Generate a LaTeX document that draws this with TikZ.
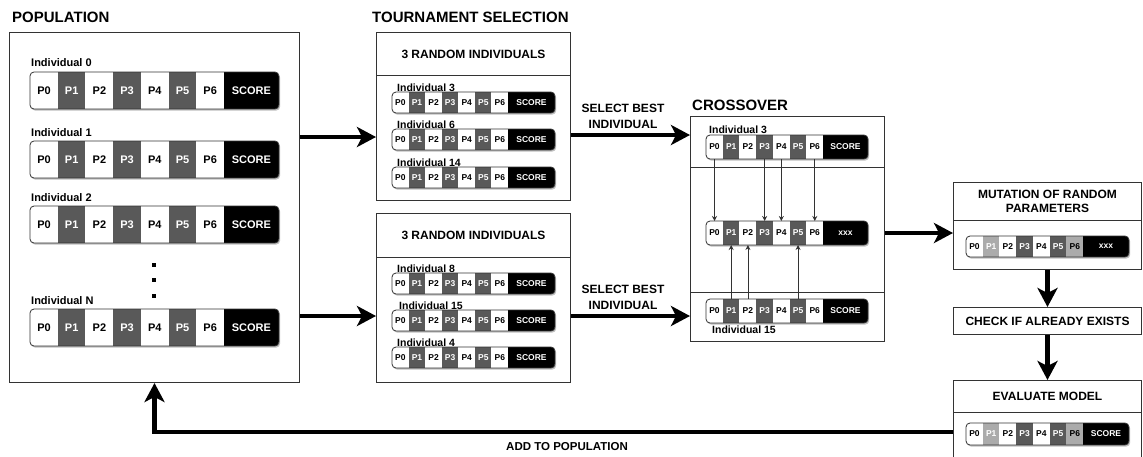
\documentclass[tikz,border=0pt]{standalone}
\usepackage{fontspec}
\setmainfont{Liberation Sans}
\usetikzlibrary{arrows.meta}
\definecolor{dgray}{HTML}{595959}
\definecolor{lgray}{HTML}{ABABAB}
\definecolor{edge}{HTML}{333333}
\def\stdcols{white/black,dgray/white,white/black,dgray/white,white/black,dgray/white,white/black}
\def\mutcols{white/black,lgray/white,white/black,dgray/white,white/black,dgray/white,lgray/black}
\tikzset{
  box/.style={draw=edge, line width=1pt, fill=white, inner sep=0pt, anchor=north west, align=center,
              font=\fontsize{12}{14}\selectfont\bfseries},
  cell/.style={inner sep=0pt, outer sep=0pt, anchor=north west},
  bigtxt/.style={font=\fontsize{11}{12}\selectfont\bfseries},
  smalltxt/.style={font=\fontsize{8.5}{9}\selectfont\bfseries},
  title/.style={anchor=west, inner sep=0pt, font=\fontsize{15}{16}\selectfont\bfseries},
  lbl/.style={anchor=base west, inner sep=0pt, font=\fontsize{11}{12}\selectfont\bfseries},
  slbl/.style={anchor=base west, inner sep=0pt, font=\fontsize{10.5}{12}\selectfont\bfseries},
  note/.style={inner sep=0pt, align=center, font=\fontsize{12}{16}\selectfont\bfseries},
  bigarrow/.style={line width=4.5pt, line join=miter, -{Stealth[length=19pt,width=20pt,inset=5pt]}},
  thinarrow/.style={draw=edge, line width=0.8pt, -{Stealth[length=5pt,width=5pt]}},
  dot/.style={fill=black, inner sep=0pt, minimum size=3.5pt},
}
% #1 name, #2 x, #3 y, #4 cell width, #5 height, #6 last width, #7 last text, #8 font style, #9 colour list
\newcommand{\chromo}[9]{%
  \pgfmathsetmacro{\chW}{7*#4+#6}%
  \fill[gray!50] ({#2+1.2},{#3+1.6}) [rounded corners=4pt] rectangle ++(\chW,#5);
  \begin{scope}
    \clip[rounded corners=4pt] (#2,#3) rectangle ++(\chW,#5);
    \foreach \f/\t [count=\i from 0] in #9 {
      \node[cell,#8,fill=\f,text=\t,minimum width={#4pt+0.3pt},minimum height=#5pt] (#1-\i) at ({#2+\i*#4},#3) {P\i};
    }
    \node[cell,#8,fill=black,text=white,minimum width=#6pt,minimum height=#5pt] (#1-7) at ({#2+7*#4},#3) {#7};
  \end{scope}
  \draw[draw=edge,line width=0.8pt,rounded corners=4pt] (#2,#3) rectangle ++(\chW,#5);
}
\begin{document}
\begin{tikzpicture}[x=1pt,y=-1pt]
\useasboundingbox (0,0) rectangle (1143,456);
\fill[white] (0,0) rectangle (1143,456);

% ---------- titles
\node[title] (tpop) at (12,17) {POPULATION};
\node[title] (ttour) at (372,17) {TOURNAMENT SELECTION};
\node[title] (tcross) at (692,105) {CROSSOVER};

% ---------- population
\node[box, minimum width=290pt, minimum height=350pt] (pop) at (9,32) {};
\node[lbl] (l0) at (31,66) {Individual 0};
\chromo{pa}{30}{72}{27.7}{37}{55}{SCORE}{bigtxt}{\stdcols}
\node[lbl] (l1) at (31,136) {Individual 1};
\chromo{pb}{30}{141}{27.7}{37}{55}{SCORE}{bigtxt}{\stdcols}
\node[lbl] (l2) at (31,201) {Individual 2};
\chromo{pc}{30}{206}{27.7}{37}{55}{SCORE}{bigtxt}{\stdcols}
\node[dot] (d1) at (154,265) {};
\node[dot] (d2) at (154,280) {};
\node[dot] (d3) at (154,296) {};
\node[lbl] (lN) at (31,304) {Individual N};
\chromo{pn}{30}{309}{27.7}{37}{55}{SCORE}{bigtxt}{\stdcols}

% ---------- tournament 1
\node[box, minimum width=194pt, minimum height=43pt] (t1h) at (376,32) {3 RANDOM INDIVIDUALS};
\node[box, minimum width=194pt, minimum height=125pt] (t1b) at (376,75) {};
\node[slbl] (la) at (397,91) {Individual 3};
\chromo{ta}{392}{92}{16.57}{21}{47}{SCORE}{smalltxt}{\stdcols}
\node[slbl] (lb) at (397,128) {Individual 6};
\chromo{tb}{392}{129}{16.57}{21}{47}{SCORE}{smalltxt}{\stdcols}
\node[slbl] (lc) at (397,166) {Individual 14};
\chromo{tc}{392}{167}{16.57}{21}{47}{SCORE}{smalltxt}{\stdcols}

% ---------- tournament 2
\node[box, minimum width=194pt, minimum height=44pt] (t2h) at (376,213) {3 RANDOM INDIVIDUALS};
\node[box, minimum width=194pt, minimum height=125pt] (t2b) at (376,257) {};
\node[slbl] (ld) at (397,272) {Individual 8};
\chromo{td}{392}{273}{16.57}{21}{47}{SCORE}{smalltxt}{\stdcols}
\node[slbl] (le) at (399,309) {Individual 15};
\chromo{te}{392}{310}{16.57}{21}{47}{SCORE}{smalltxt}{\stdcols}
\node[slbl] (lf) at (397,346) {Individual 4};
\chromo{tf}{392}{347}{16.57}{21}{47}{SCORE}{smalltxt}{\stdcols}

% ---------- crossover
\node[box, minimum width=194pt, minimum height=51pt] (cA) at (690,116) {};
\node[box, minimum width=194pt, minimum height=125pt] (cB) at (690,167) {};
\node[box, minimum width=194pt, minimum height=49pt] (cC) at (690,292) {};
\node[slbl] (lg) at (709,133) {Individual 3};
\chromo{xa}{706}{135}{16.71}{24}{45}{SCORE}{smalltxt}{\stdcols}
\chromo{xm}{706}{221}{16.71}{24}{45}{xxx}{smalltxt}{\stdcols}
\chromo{xb}{706}{299}{16.71}{24}{45}{SCORE}{smalltxt}{\stdcols}
\node[slbl] (lh) at (712,333) {Individual 15};
\foreach \k in {0,3,4,6} {\draw[thinarrow] (xa-\k.south) -- (xm-\k.north);}
\foreach \k in {1,2,5} {\draw[thinarrow] (xb-\k.north) -- (xm-\k.south);}

% ---------- mutation / check / evaluate
\node[box, minimum width=188pt, minimum height=38pt] (mH) at (953,182) {MUTATION OF RANDOM\\PARAMETERS};
\node[box, minimum width=188pt, minimum height=49pt] (mB) at (953,220) {};
\chromo{mu}{966}{236}{16.71}{21}{46}{xxx}{smalltxt}{\mutcols}
\node[box, minimum width=188pt, minimum height=27pt] (chk) at (953,307) {CHECK IF ALREADY EXISTS};
\node[box, minimum width=188pt, minimum height=32pt] (eH) at (953,380) {EVALUATE MODEL};
\node[box, minimum width=188pt, minimum height=48pt] (eB) at (953,412) {};
\chromo{ev}{966}{423}{16.71}{22}{46}{SCORE}{smalltxt}{\mutcols}

% ---------- notes
\node[note] (s1) at (623,116) {SELECT BEST\\INDIVIDUAL};
\node[note] (s2) at (623,297) {SELECT BEST\\INDIVIDUAL};
\node[note, font=\fontsize{11.5}{13}\selectfont\bfseries] (add) at (567,447) {ADD TO POPULATION};

% ---------- thick connectors
\coordinate (y1) at (0,137);
\coordinate (y2) at (0,316);
\coordinate (y3) at (0,135);
\coordinate (y4) at (0,316);
\coordinate (y5) at (0,233);
\coordinate (y6) at (0,432);
\draw[bigarrow] (pop.east |- y1) -- (t1b.west |- y1);
\draw[bigarrow] (pop.east |- y2) -- (t2b.west |- y2);
\draw[bigarrow] (t1b.east |- y3) -- (cA.west |- y3);
\draw[bigarrow] (t2b.east |- y4) -- (cC.west |- y4);
\draw[bigarrow] (cB.east |- y5) -- (mB.west |- y5);
\draw[bigarrow] (mB.south) -- (chk.north);
\draw[bigarrow] (chk.south) -- (eH.north);
\draw[bigarrow] (eB.west |- y6) -| (pop.south);
\end{tikzpicture}
\end{document}
